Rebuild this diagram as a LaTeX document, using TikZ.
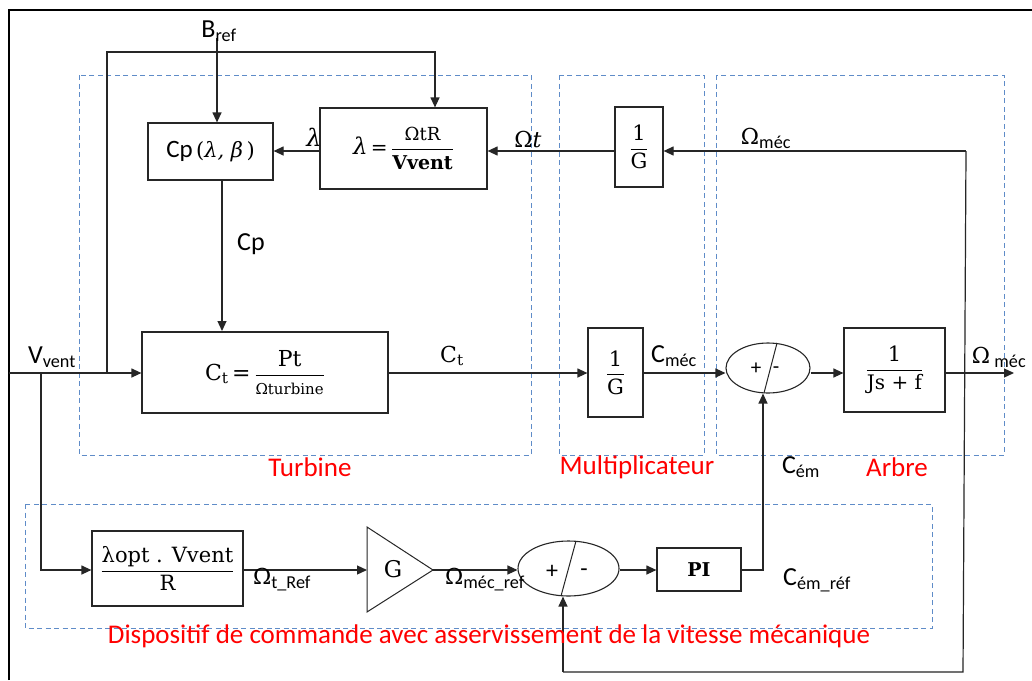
\documentclass[tikz,border=0pt]{standalone}
\usepackage{amsmath}
\usepackage{fontspec}
\setmainfont{Carlito}
\newfontfamily\serf{DejaVu Serif}
\usetikzlibrary{arrows.meta,shapes.geometric}
\definecolor{grpblue}{RGB}{95,140,200}
\newcommand{\fs}[1]{\fontsize{#1}{#1}\selectfont}
\newcommand{\fr}[2]{$\dfrac{\text{#1}}{\text{#2}}$}
\begin{document}
\begin{tikzpicture}[x=1pt,y=-1pt,
  blk/.style={draw=black!85,line width=1.2pt,inner sep=0pt,font=\serf\fs{20}},
  sumnode/.style={draw=black!85,line width=1.1pt,ellipse,inner sep=0pt},
  arr/.style={line width=1.2pt,draw=black!85,-{Triangle[length=10pt,width=9pt]}},
  ln/.style={line width=1.2pt,draw=black!85},
  grp/.style={draw=grpblue,line width=1pt,dash pattern=on 5pt off 3.5pt},
  lbl/.style={inner sep=0pt,font=\fs{26}},
  red/.style={inner sep=0pt,text=red,font=\fs{27}},
]
\useasboundingbox (0,0) rectangle (1032,680);
\fill[white] (0,0) rectangle (1032,680);
% outer frame
\draw[line width=2.6pt] (9,680) -- (9,10) -- (1032,10);
% groups
\draw[grp] (79,75) rectangle (531,455);
\draw[grp] (559,75) rectangle (704,455);
\draw[grp] (716,75) rectangle (1004,455);
\draw[grp] (25,504) rectangle (932,628);
% blocks
\node[blk,minimum width=125pt,minimum height=57pt] (cp) at (210.5,151.5)
  {{\rmfamily\fs{25}Cp}\,{\fs{21}(\itshape λ, β\upshape\,)}};
\node[blk,minimum width=167pt,minimum height=81pt] (lam) at (403.5,148.5)
  {{\fs{23}\itshape λ}\,{\fs{20}=}\,\fr{\serf\fs{18}ΩtR}{\serf\bfseries\fs{19}Vvent}};
\node[blk,minimum width=48pt,minimum height=80pt] (gt) at (639,147) {\fr{\serf\fs{21}1}{\serf\fs{21}G}};
\node[blk,minimum width=246pt,minimum height=81pt] (ct) at (265,372.5)
  {\fs{22}C\textsubscript{t}\,=\,\fr{\serf\fs{22}Pt}{\serf\fs{15}Ωturbine}};
\node[blk,minimum width=55pt,minimum height=89pt] (gm) at (615.5,372.5) {\fr{\serf\fs{21}1}{\serf\fs{21}G}};
\node[sumnode,minimum width=84pt,minimum height=50pt] (s1) at (768,368) {};
\draw[ln,line width=1pt] (777,343) -- (764,393);
\node[inner sep=0pt,font=\fs{21}] at (756,369) {+};
\node[inner sep=0pt,font=\fs{21}] at (776,370) {-};
\node[blk,minimum width=101pt,minimum height=84pt] (js) at (894.5,370) {\fr{\serf\fs{21}1}{\serf\fs{20}Js + f}};
\node[blk,minimum width=151pt,minimum height=75pt] (lo) at (167.5,568.5)
  {\fr{\serf\fs{21}λopt . Vvent}{\serf\fs{21}R}};
\draw[ln,line width=1pt] (367,527) -- (433,570) -- (367,612) -- cycle;
\coordinate (gin) at (367,570);
\coordinate (gout) at (433,570);
\node[inner sep=0pt,font=\serf\fs{23}] (g) at (393,569) {G};
\node[sumnode,minimum width=101pt,minimum height=55pt] (s2) at (568.5,568.5) {};
\draw[ln,line width=1pt] (576,541) -- (561,596);
\node[inner sep=0pt,font=\fs{24}] at (552,572) {+};
\node[inner sep=0pt,font=\fs{24}] at (584,573) {-};
\node[blk,minimum width=84pt,minimum height=43pt,font=\serf\bfseries\fs{19}] (pi) at (699,569.5) {PI};
% coordinates
\coordinate (vin) at (9,373);
\coordinate (b1) at (107,373);
\coordinate (b2) at (41,373);
\coordinate (bref) at (217,38);
\coordinate (top) at (435,52);
\coordinate (out) at (1014,373);
\coordinate (fbt) at (966,151);
\coordinate (fbb) at (963,672);
\coordinate (fbl) at (563,672);
\coordinate (pic) at (763,570);
% connectors
\draw[arr] (vin) -- (ct.west |- vin);
\draw[arr] (b1) |- (top) -- (top |- lam.north);
\draw[arr] (bref) -- (bref |- cp.north);
\draw[arr] (222,180) -- (222,331);
\draw[arr] (lam.west |- 0,151) -- (cp.east |- 0,151);
\draw[arr] (gt.west |- 0,151) -- (lam.east |- 0,151);
\draw[arr] (fbt) -- (gt.east |- fbt);
\draw[arr] (ct.east |- vin) -- (gm.west |- vin);
\draw[arr] (gm.east |- vin) -- (s1.west |- vin);
\draw[arr] (s1.east |- vin) -- (js.west |- vin);
\draw[arr] (js.east |- vin) -- (out);
\draw[ln] (fbt) -- (fbb) -- (fbl);
\draw[arr] (fbl) -- (fbl |- s2.south);
\draw[arr] (b2) |- (lo.west |- gin);
\draw[arr] (lo.east |- gin) -- (gin);
\draw[arr] (gout) -- (s2.west |- gout);
\draw[arr] (s2.east |- gout) -- (pi.west |- gout);
\draw[arr] (pi.east |- pic) -- (pic) -- (pic |- s1.south);
% labels
\node[lbl] at (219,31) {B\textsubscript{ref}};
\node[lbl] at (52,357) {V\textsubscript{vent}};
\node[lbl,font=\serf\itshape\fs{24}] at (314,137) {λ};
\node[lbl] at (528,139) {{\serf\fs{22}Ω{\itshape t}}};
\node[lbl] at (766,138) {{\serf\fs{22}Ω}\textsubscript{méc}};
\node[lbl] at (251,244) {Cp};
\node[lbl,font=\serf\fs{22}] at (452,356) {C\textsubscript{t}};
\node[lbl] at (674,356) {C\textsubscript{méc}};
\node[lbl] at (999,357) {{\serf\fs{22}Ω}\,\textsubscript{méc}};
\node[lbl] at (801,467) {C\textsubscript{ém}};
\node[lbl] at (282,580) {{\serf\fs{22}Ω}\textsubscript{t\_Ref}};
\node[lbl] at (485,580) {{\serf\fs{22}Ω}\textsubscript{méc\_ref}};
\node[lbl] at (817,580) {C\textsubscript{ém\_réf}};
\node[red] at (310,467) {Turbine};
\node[red] at (637,467) {Multiplicateur};
\node[red] at (897,467) {Arbre};
\node[red] at (489,636) {Dispositif de commande avec asservissement de la vitesse mécanique};
\end{tikzpicture}
\end{document}
